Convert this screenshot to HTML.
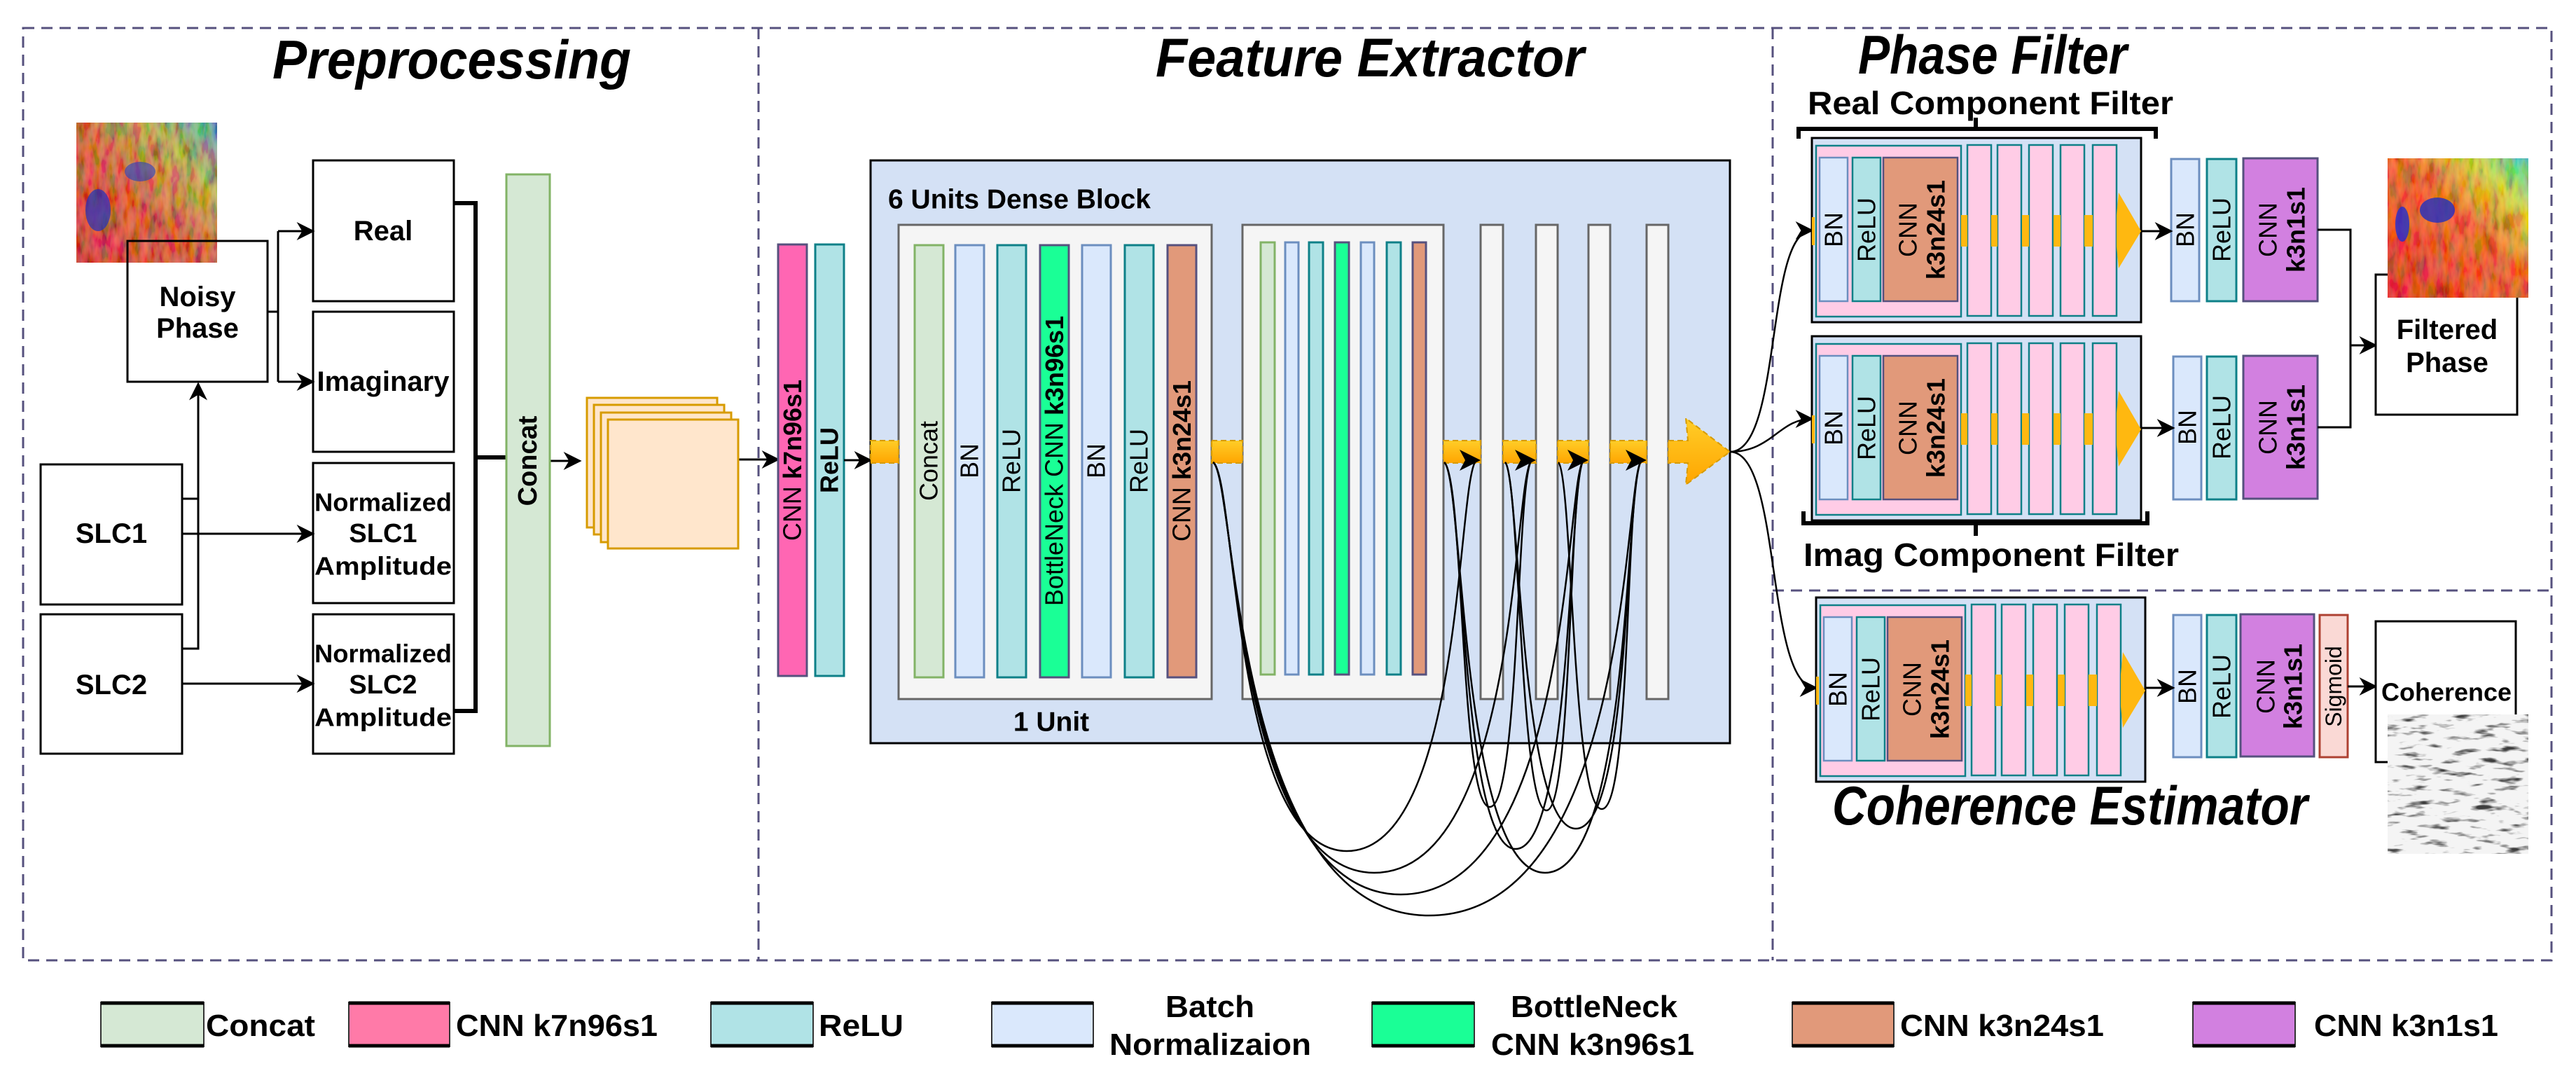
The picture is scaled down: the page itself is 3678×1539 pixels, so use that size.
<!DOCTYPE html>
<html><head><meta charset="utf-8"><style>
html,body{margin:0;padding:0;background:#fff;}
svg{display:block;}
text{font-family:"Liberation Sans",Arial,sans-serif;fill:#000;}
.b{font-weight:bold;}
</style></head><body>
<svg width="3678" height="1539" viewBox="0 0 3678 1539" xmlns="http://www.w3.org/2000/svg">
<defs>
<marker id="a" viewBox="0 0 10 10" refX="9" refY="5" markerWidth="34" markerHeight="26" markerUnits="userSpaceOnUse" orient="auto"><path d="M0,0 L10,5 L0,10 L3,5 z" fill="#000"/></marker>
<filter id="noise" x="0" y="0" width="100%" height="100%"><feTurbulence type="fractalNoise" baseFrequency="0.09 0.03" numOctaves="3" seed="4"/><feColorMatrix values="2.2 0 0 0 -0.7  0 2.2 0 0 -0.7  0 0 2.2 0 -0.7  0 0 0 0 1"/></filter>
<filter id="gnoise" x="0" y="0" width="100%" height="100%"><feTurbulence type="fractalNoise" baseFrequency="0.03 0.12" numOctaves="3" seed="7"/><feColorMatrix values="0 0 0 0 0  0 0 0 0 0  0 0 0 0 0  4 0 0 0 -2.2"/></filter>
<linearGradient id="og" x1="0" y1="0" x2="0" y2="1"><stop offset="0" stop-color="#ffcd28"/><stop offset="1" stop-color="#ffa500"/></linearGradient>
<linearGradient id="ph1" x1="0" y1="1" x2="1" y2="0"><stop offset="0" stop-color="#e82010"/><stop offset="0.45" stop-color="#e84a20"/><stop offset="0.75" stop-color="#c8b030"/><stop offset="1" stop-color="#40a0c0"/></linearGradient>
<linearGradient id="ph2" x1="0" y1="1" x2="1" y2="0"><stop offset="0" stop-color="#f21c10"/><stop offset="0.55" stop-color="#ff5a10"/><stop offset="0.8" stop-color="#e0e020"/><stop offset="1" stop-color="#30d0d0"/></linearGradient>
</defs>

<!-- borders -->
<g fill="none" stroke="#56517e" stroke-width="3" stroke-dasharray="16 10">
<rect x="33" y="40" width="3610" height="1331"/>
<line x1="1083" y1="40" x2="1083" y2="1371"/>
<line x1="2531" y1="40" x2="2531" y2="1371"/>
<line x1="2531" y1="843" x2="3643" y2="843"/>
</g>

<!-- titles -->
<g class="b" font-style="italic" font-size="78">
<text x="389" y="112" textLength="512" lengthAdjust="spacingAndGlyphs">Preprocessing</text>
<text x="1650" y="109" textLength="612" lengthAdjust="spacingAndGlyphs">Feature Extractor</text>
<text x="2653" y="105" textLength="384" lengthAdjust="spacingAndGlyphs">Phase Filter</text>
<text x="2616" y="1177" textLength="679" lengthAdjust="spacingAndGlyphs">Coherence Estimator</text>
</g>

<!-- ===== Preprocessing ===== -->
<rect x="109" y="175" width="201" height="200" fill="url(#ph1)"/>
<rect x="109" y="175" width="201" height="200" filter="url(#noise)" opacity="0.3"/>
<ellipse cx="140" cy="300" rx="18" ry="30" fill="#2030c0" opacity="0.7"/>
<ellipse cx="200" cy="245" rx="22" ry="14" fill="#2040c0" opacity="0.6"/>
<g fill="#fff" stroke="#000" stroke-width="3">
<rect x="182" y="344" width="200" height="201" fill="none"/>
<rect x="447" y="229" width="201" height="201"/>
<rect x="447" y="445" width="201" height="200"/>
<rect x="447" y="661" width="201" height="200"/>
<rect x="447" y="877" width="201" height="199"/>
<rect x="58" y="663" width="202" height="200"/>
<rect x="58" y="877" width="202" height="199"/>
</g>
<line x1="182" y1="375" x2="182" y2="545" stroke="#000" stroke-width="3"/>
<g class="b" font-size="40" text-anchor="middle" dominant-baseline="central">
<text x="282" y="424">Noisy</text><text x="282" y="469">Phase</text>
<text x="547" y="330">Real</text>
<text x="547" y="545">Imaginary</text>
<text x="547" y="717" font-size="36" textLength="196" lengthAdjust="spacingAndGlyphs">Normalized</text>
<text x="547" y="762" font-size="38">SLC1</text>
<text x="547" y="808" font-size="36" textLength="196" lengthAdjust="spacingAndGlyphs">Amplitude</text>
<text x="547" y="933" font-size="36" textLength="196" lengthAdjust="spacingAndGlyphs">Normalized</text>
<text x="547" y="978" font-size="38">SLC2</text>
<text x="547" y="1024" font-size="36" textLength="196" lengthAdjust="spacingAndGlyphs">Amplitude</text>
<text x="159" y="762">SLC1</text>
<text x="159" y="978">SLC2</text>
</g>
<g fill="none" stroke="#000" stroke-width="3">
<polyline points="382,445 397,445"/>
<polyline points="397,330 397,545"/>
<line x1="397" y1="330" x2="447" y2="330" marker-end="url(#a)"/>
<line x1="397" y1="545" x2="447" y2="545" marker-end="url(#a)"/>
<polyline points="260,712 283,712"/>
<polyline points="260,926 283,926 283,548" marker-end="url(#a)"/>
<line x1="260" y1="762" x2="447" y2="762" marker-end="url(#a)"/>
<line x1="260" y1="976" x2="447" y2="976" marker-end="url(#a)"/>
<polyline points="648,290 679,290 679,1015 648,1015" stroke-width="6"/>
<line x1="679" y1="653" x2="723" y2="653" stroke-width="6"/>
<line x1="785" y1="658" x2="828" y2="658" marker-end="url(#a)"/>
<line x1="1054" y1="656" x2="1111" y2="656" marker-end="url(#a)"/>
</g>
<rect x="723" y="249" width="62" height="816" fill="#d5e8d4" stroke="#82b366" stroke-width="3"/>
<text class="b" font-size="38" transform="translate(754,658) rotate(-90)" text-anchor="middle" dominant-baseline="central">Concat</text>
<g fill="#ffe6cc" stroke="#d79b00" stroke-width="3">
<rect x="838" y="568" width="186" height="185"/>
<rect x="848" y="578" width="186" height="185"/>
<rect x="858" y="589" width="186" height="185"/>
<rect x="868" y="599" width="186" height="184"/>
</g>

<!-- ===== Feature extractor ===== -->
<rect x="1111" y="349" width="41" height="616" fill="#ff66b3" stroke="#56517e" stroke-width="3"/>
<rect x="1164" y="349" width="41" height="616" fill="#b0e3e6" stroke="#0e8088" stroke-width="3"/>
<text font-size="36" transform="translate(1131,657) rotate(-90)" text-anchor="middle" dominant-baseline="central">CNN <tspan class="b">k7n96s1</tspan></text>
<text class="b" font-size="36" transform="translate(1184,657) rotate(-90)" text-anchor="middle" dominant-baseline="central">ReLU</text>
<line x1="1205" y1="657" x2="1243" y2="657" stroke="#000" stroke-width="3" marker-end="url(#a)"/>

<rect x="1243" y="229" width="1227" height="832" fill="#d4e1f5" stroke="#000" stroke-width="3"/>
<text class="b" font-size="39" x="1268" y="285" dominant-baseline="central">6 Units Dense Block</text>
<g fill="#f5f5f5" stroke="#666" stroke-width="3">
<rect x="1283" y="321" width="447" height="677"/>
<rect x="1774" y="321" width="287" height="677"/>
<rect x="2114" y="321" width="32" height="677"/>
<rect x="2193" y="321" width="31" height="677"/>
<rect x="2268" y="321" width="31" height="677"/>
<rect x="2351" y="321" width="31" height="677"/>
</g>
<text class="b" font-size="39" x="1501" y="1031" text-anchor="middle" dominant-baseline="central">1 Unit</text>
<g stroke-width="3">
<rect x="1306" y="350" width="41" height="617" fill="#d5e8d4" stroke="#82b366"/>
<rect x="1364" y="350" width="41" height="617" fill="#dae8fc" stroke="#6c8ebf"/>
<rect x="1424" y="350" width="41" height="617" fill="#b0e3e6" stroke="#0e8088"/>
<rect x="1485" y="350" width="41" height="617" fill="#1aff96" stroke="#56517e"/>
<rect x="1545" y="350" width="41" height="617" fill="#dae8fc" stroke="#6c8ebf"/>
<rect x="1606" y="350" width="41" height="617" fill="#b0e3e6" stroke="#0e8088"/>
<rect x="1667" y="350" width="41" height="617" fill="#e1997a" stroke="#56517e"/>
<rect x="1800" y="346" width="20" height="617" fill="#d5e8d4" stroke="#82b366"/>
<rect x="1835" y="346" width="19" height="617" fill="#dae8fc" stroke="#6c8ebf"/>
<rect x="1869" y="346" width="20" height="617" fill="#b0e3e6" stroke="#0e8088"/>
<rect x="1906" y="346" width="20" height="617" fill="#1aff96" stroke="#56517e"/>
<rect x="1943" y="346" width="19" height="617" fill="#dae8fc" stroke="#6c8ebf"/>
<rect x="1980" y="346" width="20" height="617" fill="#b0e3e6" stroke="#0e8088"/>
<rect x="2017" y="346" width="19" height="617" fill="#e1997a" stroke="#56517e"/>
</g>
<g font-size="36" text-anchor="middle" dominant-baseline="central">
<text transform="translate(1326,658) rotate(-90)">Concat</text>
<text transform="translate(1384,658) rotate(-90)">BN</text>
<text transform="translate(1444,658) rotate(-90)">ReLU</text>
<text transform="translate(1505,658) rotate(-90)">BottleNeck CNN <tspan class="b">k3n96s1</tspan></text>
<text transform="translate(1565,658) rotate(-90)">BN</text>
<text transform="translate(1626,658) rotate(-90)">ReLU</text>
<text transform="translate(1687,658) rotate(-90)">CNN <tspan class="b">k3n24s1</tspan></text>
</g>
<!-- orange flow -->
<g fill="url(#og)" stroke="#d79b00" stroke-width="2" stroke-dasharray="8 5">
<rect x="1243" y="629" width="40" height="32"/>
<rect x="1730" y="629" width="44" height="32"/>
<rect x="2061" y="629" width="53" height="32"/>
<rect x="2146" y="629" width="47" height="32"/>
<rect x="2224" y="629" width="44" height="32"/>
<rect x="2299" y="629" width="52" height="32"/>
<polygon points="2382,629 2410,629 2407,597 2470,645 2407,692 2410,661 2382,661"/>
</g>
<!-- skip connections -->
<g fill="none" stroke="#000" stroke-width="2.5">
<path d="M1732 660 C1765 680,1760 1215,1923 1215 C2090 1215,2080 680,2108 657"/>
<path d="M1732 660 C1765 680,1760 1246,1962 1246 C2170 1246,2160 680,2187 657"/>
<path d="M1732 660 C1765 680,1760 1277,2000 1277 C2245 1277,2235 680,2261 657"/>
<path d="M1732 660 C1765 680,1760 1307,2040 1307 C2330 1307,2318 680,2344 657"/>
<path d="M2062 660 C2090 680,2085 1152,2127 1152 C2170 1152,2165 680,2187 657"/>
<path d="M2062 660 C2090 680,2085 1212,2164 1212 C2245 1212,2240 680,2261 657"/>
<path d="M2062 660 C2090 680,2085 1246,2206 1246 C2330 1246,2320 680,2344 657"/>
<path d="M2149 660 C2170 680,2170 1157,2208 1157 C2245 1157,2240 680,2261 657"/>
<path d="M2149 660 C2170 680,2170 1183,2250 1183 C2330 1183,2320 680,2344 657"/>
<path d="M2225 660 C2245 680,2245 1155,2287 1155 C2330 1155,2320 680,2344 657"/>
</g>
<g fill="#000">
<polygon points="2084,642 2114,657 2084,672 2092,657"/>
<polygon points="2163,642 2193,657 2163,672 2171,657"/>
<polygon points="2238,642 2268,657 2238,672 2246,657"/>
<polygon points="2321,642 2351,657 2321,672 2329,657"/>
</g>
<!-- outputs to filters -->
<g fill="none" stroke="#000" stroke-width="2.5">
<path d="M2470 645 C2545 645,2520 329,2587 329" marker-end="url(#a)"/>
<path d="M2470 645 C2530 645,2540 598,2587 598" marker-end="url(#a)"/>
<path d="M2470 645 C2545 645,2520 982,2593 982" marker-end="url(#a)"/>
</g>

<!-- ===== Filter blocks ===== -->
<g id="fb">
<rect x="2587" y="197" width="470" height="263" fill="#d4e1f5" stroke="#000" stroke-width="3"/>
<rect x="2593" y="208" width="207" height="244" fill="#ffcce6" stroke="#0e8088" stroke-width="2.5"/>
<rect x="2598" y="225" width="40" height="205" fill="#dae8fc" stroke="#6c8ebf" stroke-width="2.5"/>
<rect x="2645" y="225" width="40" height="205" fill="#b0e3e6" stroke="#0e8088" stroke-width="2.5"/>
<rect x="2689" y="225" width="106" height="205" fill="#e1997a" stroke="#56517e" stroke-width="2.5"/>
<g fill="#ffcce6" stroke="#0e8088" stroke-width="2.5">
<rect x="2809" y="207" width="34" height="244"/>
<rect x="2852" y="207" width="34" height="244"/>
<rect x="2897" y="207" width="34" height="244"/>
<rect x="2942" y="207" width="34" height="244"/>
<rect x="2988" y="207" width="34" height="244"/>
</g>
<g fill="#ffb810">
<rect x="2800" y="307" width="9" height="45"/>
<rect x="2843" y="307" width="9" height="45"/>
<rect x="2887" y="307" width="10" height="45"/>
<rect x="2932" y="307" width="10" height="45"/>
<rect x="2976" y="307" width="12" height="45"/>
<rect x="2587" y="310" width="4" height="40"/>
<polygon points="3022,307 3025,275 3057,330 3025,383 3022,352"/>
</g>
<g font-size="36" text-anchor="middle" dominant-baseline="central">
<text transform="translate(2618,328) rotate(-90)">BN</text>
<text transform="translate(2665,328) rotate(-90)">ReLU</text>
<text transform="translate(2724,328) rotate(-90)">CNN</text>
<text class="b" transform="translate(2764,328) rotate(-90)">k3n24s1</text>
</g>
</g>
<use href="#fb" transform="translate(0,283)"/>
<use href="#fb" transform="translate(6,656)"/>

<!-- brackets -->
<g fill="none" stroke="#000" stroke-width="6">
<polyline points="2568,198 2568,184 3078,184 3078,198"/>
<line x1="2821" y1="184" x2="2821" y2="168"/>
<polyline points="2575,730 2575,747 3066,747 3066,730"/>
<line x1="2821" y1="747" x2="2821" y2="765"/>
</g>
<g class="b" font-size="46">
<text x="2581" y="163" textLength="522" lengthAdjust="spacingAndGlyphs">Real Component Filter</text>
<text x="2575" y="808" textLength="536" lengthAdjust="spacingAndGlyphs">Imag Component Filter</text>
</g>

<!-- second stage -->
<g stroke-width="3">
<rect x="3100" y="227" width="40" height="203" fill="#dae8fc" stroke="#6c8ebf"/>
<rect x="3151" y="227" width="42" height="203" fill="#b0e3e6" stroke="#0e8088"/>
<rect x="3203" y="226" width="106" height="204" fill="#d280e0" stroke="#56517e"/>
<rect x="3103" y="509" width="40" height="204" fill="#dae8fc" stroke="#6c8ebf"/>
<rect x="3151" y="509" width="42" height="204" fill="#b0e3e6" stroke="#0e8088"/>
<rect x="3203" y="508" width="106" height="204" fill="#d280e0" stroke="#56517e"/>
<rect x="3103" y="878" width="40" height="203" fill="#dae8fc" stroke="#6c8ebf"/>
<rect x="3151" y="878" width="42" height="203" fill="#b0e3e6" stroke="#0e8088"/>
<rect x="3199" y="877" width="105" height="203" fill="#d280e0" stroke="#56517e"/>
<rect x="3312" y="878" width="40" height="203" fill="#fad9d5" stroke="#ae4132"/>
</g>
<g font-size="36" text-anchor="middle" dominant-baseline="central">
<text transform="translate(3120,328) rotate(-90)">BN</text>
<text transform="translate(3172,328) rotate(-90)">ReLU</text>
<text transform="translate(3238,328) rotate(-90)">CNN</text>
<text class="b" transform="translate(3278,328) rotate(-90)">k3n1s1</text>
<text transform="translate(3123,610) rotate(-90)">BN</text>
<text transform="translate(3172,610) rotate(-90)">ReLU</text>
<text transform="translate(3238,610) rotate(-90)">CNN</text>
<text class="b" transform="translate(3278,610) rotate(-90)">k3n1s1</text>
<text transform="translate(3123,980) rotate(-90)">BN</text>
<text transform="translate(3172,980) rotate(-90)">ReLU</text>
<text transform="translate(3235,980) rotate(-90)">CNN</text>
<text class="b" transform="translate(3274,980) rotate(-90)">k3n1s1</text>
<text transform="translate(3332,980) rotate(-90)" font-size="32">Sigmoid</text>
</g>
<g fill="none" stroke="#000" stroke-width="3">
<line x1="3057" y1="330" x2="3100" y2="330" marker-end="url(#a)"/>
<line x1="3057" y1="611" x2="3103" y2="611" marker-end="url(#a)"/>
<line x1="3063" y1="982" x2="3103" y2="982" marker-end="url(#a)"/>
<polyline points="3309,328 3356,328 3356,610 3309,610"/>
<line x1="3356" y1="493" x2="3392" y2="493" marker-end="url(#a)"/>
<line x1="3352" y1="980" x2="3392" y2="980" marker-end="url(#a)"/>
<rect x="3392" y="392" width="202" height="200" fill="#fff"/>
<rect x="3392" y="887" width="200" height="201" fill="#fff"/>
</g>
<rect x="3409" y="226" width="201" height="199" fill="url(#ph2)"/>
<rect x="3409" y="226" width="201" height="199" filter="url(#noise)" opacity="0.25"/>
<ellipse cx="3480" cy="300" rx="25" ry="18" fill="#2030c0" opacity="0.8"/>
<ellipse cx="3430" cy="320" rx="10" ry="25" fill="#2030d0" opacity="0.8"/>
<text class="b" font-size="40" text-anchor="middle" dominant-baseline="central" x="3494" y="471">Filtered</text>
<text class="b" font-size="40" text-anchor="middle" dominant-baseline="central" x="3494" y="518">Phase</text>
<text class="b" font-size="36" text-anchor="middle" dominant-baseline="central" x="3493" y="988">Coherence</text>
<rect x="3409" y="1020" width="201" height="199" fill="#f4f4f4"/>
<rect x="3409" y="1020" width="201" height="199" filter="url(#gnoise)" opacity="0.75"/>

<!-- ===== Legend ===== -->
<g stroke="#333" stroke-width="2">
<rect x="144" y="1431" width="147" height="63" fill="#d5e8d4"/>
<rect x="498" y="1431" width="144" height="63" fill="#ff7aa8"/>
<rect x="1015" y="1431" width="146" height="63" fill="#b0e3e6"/>
<rect x="1416" y="1431" width="145" height="63" fill="#dae8fc"/>
<rect x="1959" y="1431" width="146" height="63" fill="#1aff96"/>
<rect x="2559" y="1431" width="145" height="63" fill="#e1997a"/>
<rect x="3131" y="1431" width="146" height="63" fill="#d280e0"/>
</g>
<g stroke="#000" stroke-width="5">
<line x1="144" y1="1432" x2="291" y2="1432"/><line x1="144" y1="1493" x2="291" y2="1493"/>
<line x1="498" y1="1432" x2="642" y2="1432"/><line x1="498" y1="1493" x2="642" y2="1493"/>
<line x1="1015" y1="1432" x2="1161" y2="1432"/><line x1="1015" y1="1493" x2="1161" y2="1493"/>
<line x1="1416" y1="1432" x2="1561" y2="1432"/><line x1="1416" y1="1493" x2="1561" y2="1493"/>
<line x1="1959" y1="1432" x2="2105" y2="1432"/><line x1="1959" y1="1493" x2="2105" y2="1493"/>
<line x1="2559" y1="1432" x2="2704" y2="1432"/><line x1="2559" y1="1493" x2="2704" y2="1493"/>
<line x1="3131" y1="1432" x2="3277" y2="1432"/><line x1="3131" y1="1493" x2="3277" y2="1493"/>
</g>
<g class="b" font-size="44">
<text x="294" y="1479" textLength="156" lengthAdjust="spacingAndGlyphs">Concat</text>
<text x="651" y="1479" textLength="288" lengthAdjust="spacingAndGlyphs">CNN k7n96s1</text>
<text x="1169" y="1479" textLength="121" lengthAdjust="spacingAndGlyphs">ReLU</text>
<text x="1664" y="1452" textLength="127" lengthAdjust="spacingAndGlyphs">Batch</text>
<text x="1584" y="1506" textLength="288" lengthAdjust="spacingAndGlyphs">Normalizaion</text>
<text x="2157" y="1452" textLength="238" lengthAdjust="spacingAndGlyphs">BottleNeck</text>
<text x="2129" y="1506" textLength="290" lengthAdjust="spacingAndGlyphs">CNN k3n96s1</text>
<text x="2713" y="1479" textLength="291" lengthAdjust="spacingAndGlyphs">CNN k3n24s1</text>
<text x="3304" y="1479" textLength="263" lengthAdjust="spacingAndGlyphs">CNN k3n1s1</text>
</g>
</svg>
</body></html>
